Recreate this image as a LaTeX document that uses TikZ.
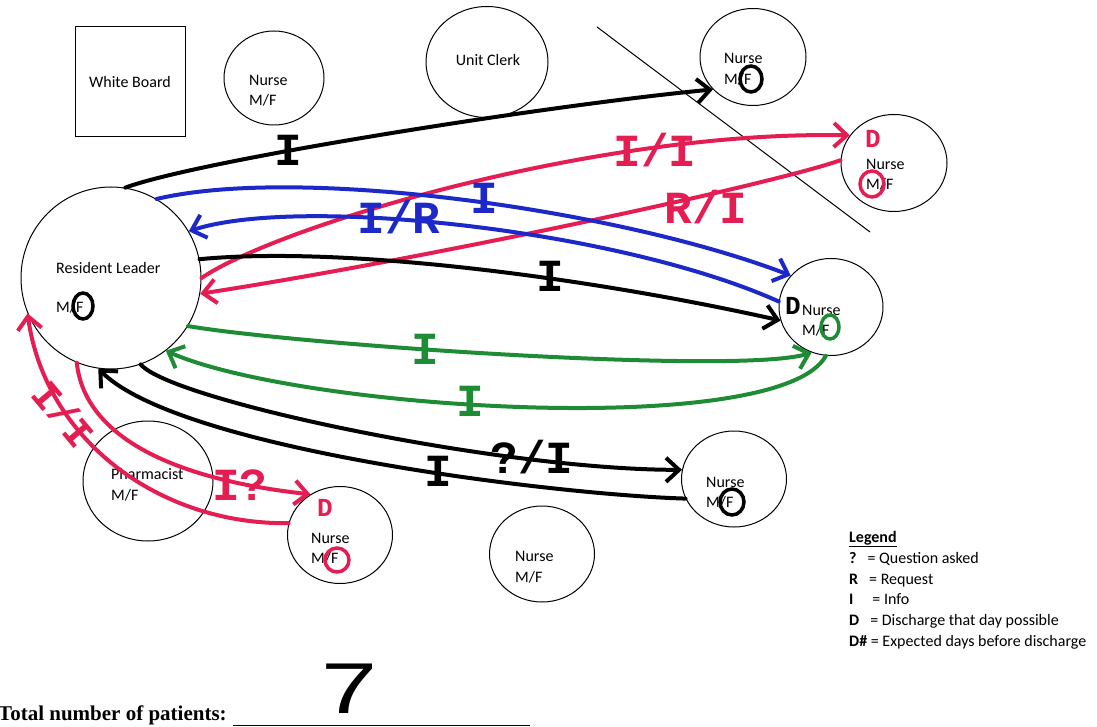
\documentclass[tikz,border=0pt]{standalone}
\usepackage{fontspec}
\setmainfont{Carlito}
\newfontfamily\handfont{Liberation Mono}
\newfontfamily\timesfont{Liberation Serif}
\newfontfamily\sevenfont{Liberation Sans}
\usetikzlibrary{arrows.meta,shapes.geometric}
\definecolor{mred}{RGB}{228,30,82}
\definecolor{mblue}{RGB}{28,40,200}
\definecolor{mgreen}{RGB}{30,140,52}
\tikzset{
  seat/.style={draw, ellipse, line width=1pt, inner sep=0pt},
  lbl/.style={font=\fontsize{16}{20}\selectfont, anchor=base west, inner sep=0pt},
  pen/.style={line width=4pt, line cap=round, line join=round},
  tip/.style={-{Straight Barb[length=13pt,width=24pt]}},
  hand/.style={font=\handfont\bfseries\fontsize{46}{46}\selectfont, inner sep=0pt},
  handd/.style={font=\handfont\bfseries\fontsize{26}{26}\selectfont, inner sep=0pt},
  omark/.style={line width=3.5pt},
}
\begin{document}
\begin{tikzpicture}[x=1pt,y=-1pt]
\useasboundingbox[fill=white] (0,0) rectangle (1097,727);

% seats
\node[draw, line width=1pt, minimum width=110pt, minimum height=110pt, inner sep=0pt,
      font=\fontsize{16}{20}\selectfont] (WB) at (130,82) {White Board};
\node[seat, minimum width=100pt, minimum height=94pt] (NT) at (274,78) {};
\node[seat, minimum width=122pt, minimum height=111pt] (UC) at (487,62) {};
\node[seat, minimum width=180pt, minimum height=182pt] (RL) at (111,278) {};
\node[seat, minimum width=106pt, minimum height=97pt] (NTR) at (753,57) {};
\node[seat, minimum width=106pt, minimum height=97pt] (N2) at (894,163) {};
\node[seat, minimum width=104pt, minimum height=97pt] (N3) at (831,307) {};
\node[seat, minimum width=130pt, minimum height=120pt] (PH) at (148,481) {};
\node[seat, minimum width=105pt, minimum height=97pt] (NBL) at (340,535) {};
\node[seat, minimum width=105pt, minimum height=96pt] (NBM) at (542,554) {};
\node[seat, minimum width=105pt, minimum height=96pt] (NBR) at (734,479) {};

% seat texts
\node[lbl] (NTa) at (249,86) {Nurse};
\node[lbl] (NTb) at (249,106) {M/F};
\node[font=\fontsize{16}{20}\selectfont, inner sep=0pt] (UCa) at (488,60) {Unit Clerk};
\node[lbl] (RLa) at (56,273) {Resident Leader};
\node[lbl] (RLb) at (56,312) {M/F};
\node[lbl] (NTRa) at (724,64) {Nurse};
\node[lbl] (NTRb) at (724,85) {M/F};
\node[lbl] (N2a) at (866,170) {Nurse};
\node[lbl] (N2b) at (866,190) {M/F};
\node[lbl] (N3a) at (802,315) {Nurse};
\node[lbl] (N3b) at (802,335) {M/F};
\node[lbl] (PHa) at (111,479) {Pharmacist};
\node[lbl] (PHb) at (111,500) {M/F};
\node[lbl] (NBLa) at (311,543) {Nurse};
\node[lbl] (NBLb) at (311,563) {M/F};
\node[lbl] (NBMa) at (515,561) {Nurse};
\node[lbl] (NBMb) at (515,582) {M/F};
\node[lbl] (NBRa) at (706,487) {Nurse};
\node[lbl] (NBRb) at (706,507) {M/F};

% divider
\coordinate (dv1) at (597,27);
\coordinate (dv2) at (870,232);
\draw[line width=1pt] (dv1) -- (dv2);

% connectors
\draw[pen, tip] (RL.81) .. controls (200,160) and (550,105) .. (NTR.-141);
\draw[pen, mred, tip] (RL.0) .. controls (280,225) and (600,130) .. (N2.148);
\draw[pen, mred, tip] (N2.177) .. controls (770,185) and (420,260) .. (RL.-10);
\draw[pen, mblue, tip] (RL.60) .. controls (300,165) and (620,210) .. (N3.142);
\draw[pen, mblue, tip] (N3.174) .. controls (620,230) and (300,195) .. (RL.31);
\draw[pen, tip] (RL.12) .. controls (350,245) and (600,280) .. (N3.-165);
\draw[pen, mgreen, tip] (RL.-32) .. controls (300,345) and (740,375) .. (N3.-113);
\draw[pen, mgreen, tip] (N3.-96) .. controls (780,440) and (300,410) .. (RL.-53);
\draw[pen, tip] (RL.-71) .. controls (170,400) and (500,470) .. (NBR.170);
\draw[pen, tip] (NBR.-158) .. controls (560,495) and (180,450) .. (RL.-98);
\draw[pen, mred, tip] (RL.-112) .. controls (85,440) and (180,480) .. (NBL.126);
\draw[pen, mred, tip] (NBL.167) .. controls (160,525) and (45,440) .. (RL.-157);

% connector labels
\node[hand] (l1) at (288,150) {I};
\node[hand, mred] (l2) at (655,150) {I/I};
\node[hand, mred] (l3) at (706,207) {R/I};
\node[hand, mblue] (l4) at (399,217) {I/R};
\node[hand, mblue] (l5) at (484,198) {I};
\node[hand] (l6) at (550,276) {I};
\node[hand, mgreen] (l7) at (425,349) {I};
\node[hand, mgreen] (l8) at (470,401) {I};
\node[hand] (l9) at (438,471) {I};
\node[hand] (l10) at (532,457) {?/I};
\node[hand, mred] (l11) at (240,485) {I?};
\node[hand, mred, rotate=-50, font=\handfont\bfseries\fontsize{40}{40}\selectfont] (l12) at (64,414) {I/I};
\node[handd, mred] (d1) at (873,139) {D};
\node[handd] (d2) at (793,306) {D};
\node[handd, mred] (d3) at (325,508) {D};

% O marks
\draw[omark] (83,306) ellipse [x radius=10, y radius=13];
\draw[omark] (751,79) ellipse [x radius=11, y radius=13];
\draw[omark, mred] (872,184) ellipse [x radius=12, y radius=13];
\draw[omark, mgreen] (830,327) ellipse [x radius=9, y radius=12];
\draw[omark] (732,502) ellipse [x radius=12, y radius=13];
\draw[omark, mred] (337,560) ellipse [x radius=12, y radius=12];

% legend
\node[lbl] (lg0) at (849,542) {\underline{\textbf{Legend}}};
\node[lbl] (lg1) at (849,563) {\textbf{?}\hspace{11pt}= Question asked};
\node[lbl] (lg2) at (849,584) {\textbf{R}\hspace{11pt}= Request};
\node[lbl] (lg3) at (849,604) {\textbf{I}\hspace{19pt}= Info};
\node[lbl] (lg4) at (849,625) {\textbf{D}\hspace{11pt}= Discharge that day possible};
\node[lbl] (lg5) at (849,646) {\textbf{D\#} = Expected days before discharge};

% total
\node[font=\timesfont\bfseries\fontsize{21}{24}\selectfont, anchor=base west, inner sep=0pt] (tot) at (-2,720) {Total number of patients:};
\coordinate (ul1) at (233,725.5);
\coordinate (ul2) at (530,725.5);
\draw[line width=1.5pt] (ul1) -- (ul2);
\node[font=\sevenfont\fontsize{72}{72}\selectfont, inner sep=0pt] (seven) at (350,689) {\scalebox{1.4}[1]{7}};
\end{tikzpicture}
\end{document}
